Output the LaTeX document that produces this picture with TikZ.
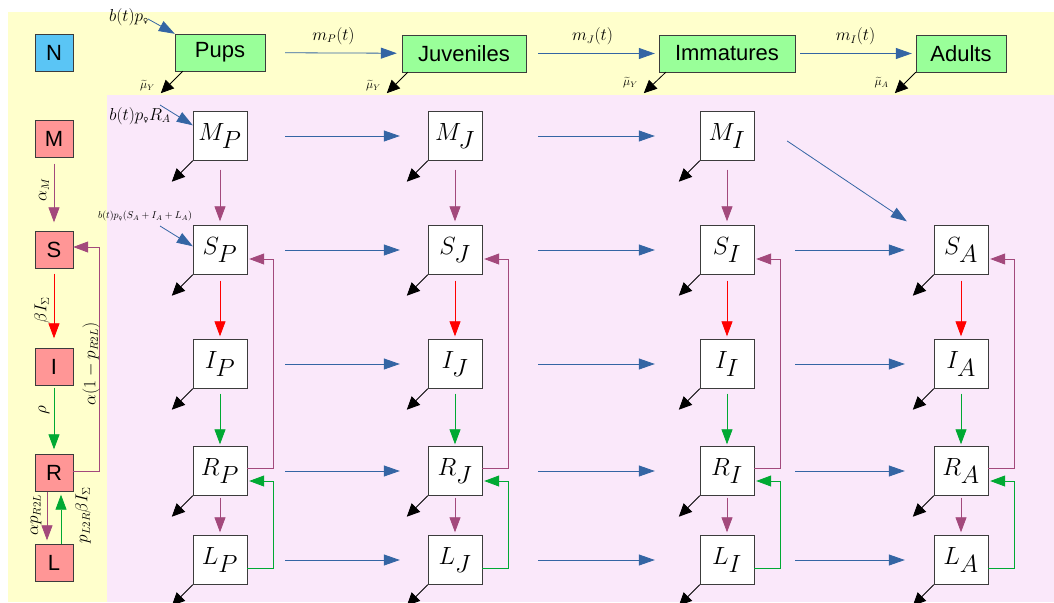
\documentclass[tikz,border=0pt]{standalone}
\usepackage{fontspec}
\newfontfamily\sansf{Liberation Sans}
\newfontfamily\symf{DejaVu Sans}
\usetikzlibrary{arrows.meta,calc}
\newcommand{\fem}{\mbox{\symf\fontsize{7}{7}\selectfont ♀}}
\newcommand{\femsm}{\mbox{\symf\fontsize{5}{5}\selectfont ♀}}
\definecolor{ybg}{RGB}{255,255,204}
\definecolor{pbg}{RGB}{250,232,250}
\definecolor{nblue}{RGB}{90,197,245}
\definecolor{rfill}{RGB}{255,150,150}
\definecolor{gfill}{RGB}{153,255,153}
\definecolor{fblue}{RGB}{52,101,164}
\definecolor{purp}{RGB}{163,73,124}
\definecolor{grn}{RGB}{0,169,51}
\definecolor{bord}{RGB}{60,60,60}
\begin{document}
\begin{tikzpicture}[x=1pt,y=-1pt,
  gbox/.style={draw=bord, fill=gfill, minimum height=37pt, inner sep=0pt, font=\sansf\fontsize{22}{22}\selectfont},
  sbox/.style={draw=bord, fill=rfill, minimum width=38pt, minimum height=37pt, inner sep=0pt, font=\sansf\fontsize{22}{22}\selectfont},
  comp/.style={draw=bord, fill=white, minimum width=54pt, minimum height=49pt, inner sep=0pt, font=\fontsize{25}{25}\selectfont},
  flow/.style={draw=fblue, line width=0.8pt, -{Triangle[length=16pt,width=11pt]}},
  death/.style={draw=black, line width=0.8pt, -{Triangle[length=13pt,width=12pt]}},
  parr/.style={draw=purp, line width=0.8pt, -{Triangle[length=15pt,width=11pt]}},
  rarr/.style={draw=red, line width=0.8pt, -{Triangle[length=15pt,width=11pt]}},
  garr/.style={draw=grn, line width=0.8pt, -{Triangle[length=15pt,width=11pt]}},
  lab/.style={inner sep=0pt, font=\fontsize{16}{16}\selectfont},
  mlab/.style={inner sep=0pt, font=\fontsize{12}{12}\selectfont, anchor=south east},
]
\useasboundingbox (0,0) rectangle (1054,602);
\fill[white] (0,0) rectangle (1054,602);
\fill[ybg] (8,12) rectangle (1054,602);
\fill[pbg] (107,95) rectangle (1054,602);

% top row
\node[draw=bord, fill=nblue, minimum width=38pt, minimum height=37pt, inner sep=0pt, font=\sansf\fontsize{22}{22}\selectfont] (N) at (54,53) {N};
\node[gbox, minimum width=90pt] (Pups) at (220,52.5) {Pups};
\node[gbox, minimum width=124pt] (Juv) at (464,53.5) {Juveniles};
\node[gbox, minimum width=136pt] (Imm) at (727,53.5) {Immatures};
\node[gbox, minimum width=90pt] (Adu) at (961,53.5) {Adults};

\draw[flow, shorten <=20pt, shorten >=5pt] (Pups) -- node[lab, above=8pt] {$m_P(t)$} (Juv);
\draw[flow, shorten <=12pt, shorten >=4pt] (Juv) -- node[lab, above=8pt] {$m_J(t)$} (Imm);
\draw[flow, shorten <=5pt, shorten >=4pt] (Imm) -- node[lab, above=8pt] {$m_I(t)$} (Adu);

\coordinate (inTop) at (148,19);
\node[lab, anchor=east] (lTop) at ($(inTop)+(1,-2)$) {$b(t)p_{\fem}$};
\draw[flow] (inTop) -- (Pups.north west);

\draw[death] ($(Pups.south west)+(8,0)$) -- ++(-22,22) coordinate (dPups);
\node[mlab] at ($(dPups)+(-6,-2)$) {$\widetilde{\mu}_Y$};
\draw[death] ($(Juv.south west)+(6,0)$) -- ++(-21,21) coordinate (dJuv);
\node[mlab] at ($(dJuv)+(-6,-2)$) {$\widetilde{\mu}_Y$};
\draw[death] ($(Imm.south west)+(7,0)$) -- ++(-22,21) coordinate (dImm);
\node[mlab] at ($(dImm)+(-6,-5)$) {$\widetilde{\mu}_Y$};
\draw[death] ($(Adu.south west)+(0,0)$) -- ++(-21,21) coordinate (dAdu);
\node[mlab] at ($(dAdu)+(-6,-5)$) {$\widetilde{\mu}_A$};

% left column
\node[sbox] (M) at (54,139) {M};
\node[sbox] (S) at (54,250) {S};
\node[sbox] (I) at (54,367) {I};
\node[sbox] (R) at (54,473) {R};
\node[sbox] (L) at (54,563) {L};

\draw[parr, shorten <=6pt, shorten >=9pt] (M) -- (S);
\draw[rarr, shorten <=5pt, shorten >=10pt] (S) -- (I);
\draw[garr, shorten <=2pt, shorten >=5pt] (I) -- (R);
\draw[parr] ($(R.south)+(-7,0)$) -- ($(L.north)+(-7,-4)$);
\draw[garr] ($(L.north)+(7,0)$) -- ($(R.south)+(7,3)$);
\draw[parr] ($(R.east)+(0,-2)$) -- ++(26,0) |- ($(S.east)+(0,-3)$);

\node[lab, rotate=90] at (44,190) {$\alpha_M$};
\node[lab, rotate=90] at (42,310) {$\beta I_\Sigma$};
\node[lab, rotate=90] at (44,410) {$\rho$};
\node[lab, rotate=90] at (91,364) {$\alpha(1-p_{R2L})$};
\node[lab, rotate=90] at (36,515) {$\alpha p_{R2L}$};
\node[lab, rotate=90] at (83,515) {$p_{L2R}\beta I_\Sigma$};

% grid
\foreach \colname/\x in {P/220,J/455,I/727,A/961}{
  \foreach \rowname/\y in {S/250,I/364,R/471,L/560}{
    \node[comp] (\rowname\colname) at (\x,\y) {$\rowname_{\textstyle \colname}$};
    \draw[death] (\rowname\colname.south west) -- ++(-21,21);
  }
  \draw[rarr, shorten <=6pt, shorten >=3pt] (S\colname) -- (I\colname);
  \draw[garr, shorten <=5pt, shorten >=2pt] (I\colname) -- (R\colname);
  \draw[parr, shorten <=2pt, shorten >=3pt] (R\colname) -- (L\colname);
  \draw[parr] ($(R\colname.east)+(0,-3)$) -- ++(26,0) |- ($(S\colname.east)+(2,9)$);
  \draw[garr] ($(L\colname.east)+(0,8)$) -- ++(26,0) |- ($(R\colname.east)+(2,10)$);
}
\foreach \colname/\x in {P/220,J/455,I/727}{
  \node[comp] (M\colname) at (\x,136) {$M_{\textstyle \colname}$};
  \draw[death] (M\colname.south west) -- ++(-21,21);
  \draw[parr, shorten <=9pt, shorten >=4pt] (M\colname) -- (S\colname);
}

\foreach \rowname in {M,S,I,R,L}{
  \draw[flow, shorten <=38pt, shorten >=28pt] (\rowname P) -- (\rowname J);
  \draw[flow, shorten <=56pt, shorten >=45pt] (\rowname J) -- (\rowname I);
}
\foreach \rowname in {S,I,R,L}{
  \draw[flow, shorten <=41pt, shorten >=29pt] (\rowname I) -- (\rowname A);
}
\draw[flow] ($(MI.east)+(33,5)$) -- ($(SA.north west)+(-27,-4)$);

% inputs
\coordinate (in1) at (160,105);
\draw[flow] (in1) -- ($(MP.north west)+(0,14)$);
\node[lab] at (140,116) {$b(t)p_{\fem}R_A$};
\coordinate (in2) at (160,226);
\draw[flow] (in2) -- ($(SP.north west)+(0,21)$);
\node[inner sep=0pt, font=\fontsize{10}{10}\selectfont] at (145,216) {$b(t)p_{\femsm}(S_A+I_A+L_A)$};
\end{tikzpicture}
\end{document}
